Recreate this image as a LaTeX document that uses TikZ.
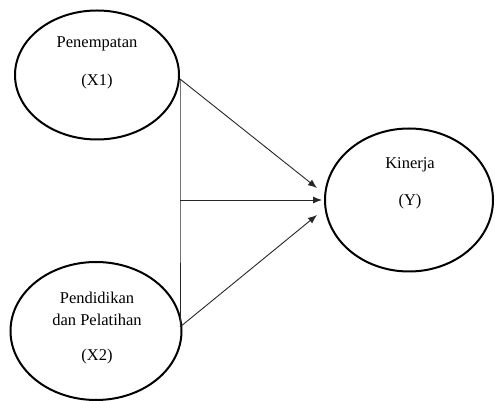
\documentclass[tikz,border=0pt]{standalone}
\usepackage{fontspec}
\setmainfont{Liberation Serif}
\usepackage{tikz}
\usetikzlibrary{positioning, calc, shapes.geometric, arrows.meta}

\tikzset{
    var/.style={ellipse, draw=black, line width=2pt, inner sep=0pt},
    lbl/.style={font=\fontsize{16.5}{19}\selectfont, inner sep=0pt},
    path/.style={line width=0.9pt, draw=black!85}
}

\begin{document}
\begin{tikzpicture}[x=1pt, y=1pt]
            \useasboundingbox (0,0) rectangle (495,401);

            % variables
            \node[var, minimum width=164pt, minimum height=129pt] (X1) at (97,326) {};
            \node[lbl] (X1name) at (97,357) {Penempatan};
            \node[lbl] (X1code) at (97,319) {(X1)};

            \node[var, minimum width=171pt, minimum height=138pt] (X2) at (96,70) {};
            \node[lbl] (X2name) at (97,103) {Pendidikan};
            \node[lbl] (X2sub) at (97,81) {dan Pelatihan};
            \node[lbl] (X2code) at (97,44) {(X2)};

            \node[var, minimum width=168pt, minimum height=143pt] (Y) at (409,201) {};
            \node[lbl] (Yname) at (410,236) {Kinerja};
            \node[lbl] (Ycode) at (410,199) {(Y)};

            % junctions and arrow ends
            \coordinate (J1) at (180,322);
            \coordinate (JM) at (180,201);
            \coordinate (J2) at (180,74);
            \coordinate (T1) at (317,213);
            \coordinate (T2) at (322,201);
            \coordinate (T3) at (317,186);

            \draw[path] (J1) -- (JM) -- (J2);
            \draw[path, -{Latex[length=9pt, width=7pt]}] (J1) -- (T1);
            \draw[path, -{Latex[length=9pt, width=7pt]}] (JM) -- (T2);
            \draw[path, -{Latex[length=9pt, width=7pt]}] (J2) -- (T3);
        \end{tikzpicture}
\end{document}
